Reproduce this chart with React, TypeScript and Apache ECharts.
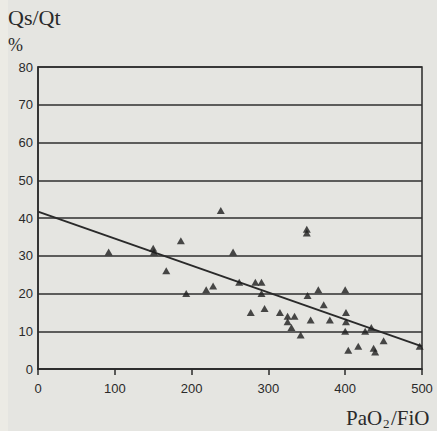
import React, { useEffect, useRef } from "react";
import * as echarts from "echarts";

const pointX = [92, 150, 151, 186, 167, 193, 219, 228, 238, 254, 262, 283, 291, 291, 277, 295, 315, 325, 334, 325, 330, 342, 350, 350, 351, 365, 372, 355, 380, 400, 401, 401, 400, 404, 417, 426, 434, 437, 439, 450, 497];
const pointY = [31, 32, 31, 34, 26, 20, 21, 22, 42, 31, 23, 23, 23, 20, 15, 16, 15, 14, 14, 12.5, 11, 9, 37, 36, 19.5, 21, 17, 13, 13, 21, 15, 12.5, 10, 5, 6, 10, 11, 5.5, 4.5, 7.5, 6];
const fitX = [0, 500];
const fitY = [41.7, 6];
const yTicks = [0, 10, 20, 30, 40, 50, 60, 70, 80];
const xTicks = [0, 100, 200, 300, 400, 500];

const INK = "#2a2a2a";

export default function App() {
  const ref = useRef<HTMLDivElement>(null);
  useEffect(() => {
    document.body.style.margin = "0";
    const chart = echarts.init(ref.current!, undefined, { renderer: "svg" });
    chart.setOption({
      animation: false,
      backgroundColor: "#e5e5e1",
      grid: {
        left: 38,
        right: 15,
        top: 67,
        bottom: 62,
        show: true,
        borderColor: INK,
        borderWidth: 1.5,
      },
      xAxis: {
        type: "value",
        min: xTicks[0],
        max: xTicks[xTicks.length - 1],
        interval: 100,
        axisLine: { show: true, onZero: false, lineStyle: { color: INK, width: 1.5 } },
        axisTick: { show: true, length: 6, lineStyle: { color: INK, width: 1.5 } },
        axisLabel: { color: INK, fontSize: 13, fontFamily: "Liberation Sans", margin: 13 },
        splitLine: { show: false },
      },
      yAxis: {
        type: "value",
        min: yTicks[0],
        max: yTicks[yTicks.length - 1],
        interval: 10,
        axisLine: { show: true, lineStyle: { color: INK, width: 1.5 } },
        axisTick: { show: false },
        axisLabel: { color: INK, fontSize: 13, fontFamily: "Liberation Sans", margin: 5 },
        splitLine: { show: true, lineStyle: { color: "#2e2e2e", width: 1.5 } },
      },
      series: [
        {
          type: "line",
          data: fitX.map((x, i) => [x, fitY[i]]),
          symbol: "none",
          lineStyle: { color: INK, width: 2 },
          z: 3,
        },
        {
          type: "scatter",
          data: pointX.map((x, i) => [x, pointY[i]]),
          symbol: "triangle",
          symbolSize: [8, 7],
          itemStyle: { color: "#1e1e1e" },
          z: 4,
        },
      ],
      graphic: [
        { type: "rect", left: 0, top: 0, shape: { width: 8, height: 431 }, style: { fill: "#ecebe5" }, z: -1 },
        { type: "text", x: 8, y: 6, style: { text: "Qs/Qt", font: "22px 'Liberation Serif'", fill: INK } },
        { type: "text", x: 8, y: 36, style: { text: "%", font: "18px 'Liberation Serif'", fill: INK } },
        { type: "text", x: 346, y: 407, style: { text: "PaO", font: "21px 'Liberation Serif'", fill: INK } },
        { type: "text", x: 383, y: 417, style: { text: "2", font: "13px 'Liberation Serif'", fill: INK } },
        { type: "text", x: 391, y: 407, style: { text: "/FiO", font: "21px 'Liberation Serif'", fill: INK } },
      ],
    });
    return () => chart.dispose();
  }, []);
  return <div ref={ref} style={{ position: "fixed", left: 0, top: 0, width: 437, height: 431 }} />;
}
